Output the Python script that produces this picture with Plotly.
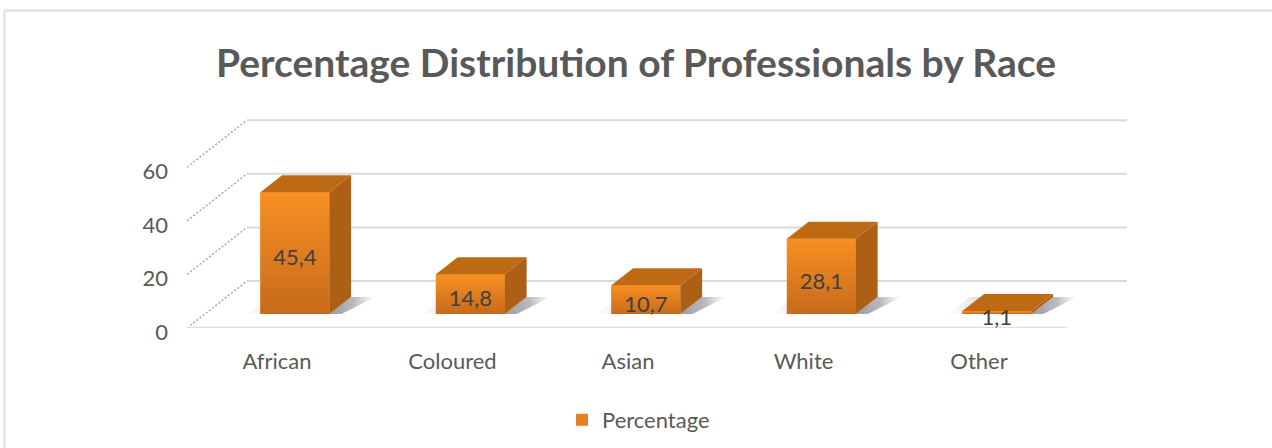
import plotly.graph_objects as go

categories = ["African", "Coloured", "Asian", "White", "Other"]
values = [45.4, 14.8, 10.7, 28.1, 1.1]
value_labels = ["45,4", "14,8", "10,7", "28,1", "1,1"]
y_ticks = [0, 20, 40, 60]
series_name = "Percentage"

# plot-box geometry (pixels of the page)
W, H = 1272, 448
L, R, T, B = 187, 1127, 100, 328
PX_X = 175.5          # pixels per category
PX_Y = 2.68           # pixels per value unit
X_MIN = (L - 277) / PX_X
X_MAX = (R - 277) / PX_X
Y_MAX = (B - T) / PX_Y
DEPTH_X = 60 / PX_X   # shift of the full floor depth, in axis units
DEPTH_Y = 47 / PX_Y
BAR_W = 69 / PX_X
D_FRONT, D_BACK = 0.298, 0.66


def project(i, v, depth):
    return i + depth * DEPTH_X, v + depth * DEPTH_Y


fig = go.Figure()

# wall grid lines and diagonals
for t in y_ticks:
    x0, y0 = project(X_MIN, t, 0)
    x1, y1 = project(X_MIN, t, 1)
    fig.add_trace(go.Scatter(x=[x1, X_MAX], y=[y1, y1], mode="lines", showlegend=False, hoverinfo="skip",
                             cliponaxis=False, line=dict(color="#DADADA", width=2)))
    fig.add_trace(go.Scatter(x=[x0, x1], y=[y0, y1], mode="lines", showlegend=False, hoverinfo="skip",
                             cliponaxis=False, line=dict(color="#A8A8A8", width=1.5, dash="2px,2px")))
# floor front edge
x0, y0 = project(X_MIN, 0, 0)
x1, _ = project(X_MAX - DEPTH_X, 0, 0)
fig.add_trace(go.Scatter(x=[x0, x1], y=[y0, y0], mode="lines", showlegend=False, hoverinfo="skip",
                         cliponaxis=False, line=dict(color="#DDE0E3", width=2.5)))

# soft floor shadows
for i in range(len(values)):
    xa, ya = project(i + BAR_W / 2, 0, D_FRONT)
    xb, yb = project(i + BAR_W / 2, 0, D_BACK)
    sx = 24 / PX_X
    fig.add_trace(go.Scatter(
        x=[xa, xb, xb + sx, xa + sx * 0.5, xa], y=[ya, yb, yb, ya, ya], mode="lines", fill="toself",
        line=dict(width=0), showlegend=False, hoverinfo="skip", cliponaxis=False,
        fillgradient=dict(type="horizontal", colorscale=[[0, "rgba(110,110,120,0.7)"], [0.55, "rgba(130,130,140,0.55)"], [1, "rgba(160,160,170,0)"]])))
    xc, yc = project(i - BAR_W / 2, 0, D_FRONT)
    xd, yd = project(i - BAR_W / 2, 0, D_BACK)
    fig.add_trace(go.Scatter(
        x=[xc - sx * 0.6, xd - sx * 0.6, xd + 0.02, xc + 0.02, xc - sx * 0.6], y=[yc, yd, yd, yc, yc], mode="lines",
        fill="toself", line=dict(width=0), showlegend=False, hoverinfo="skip", cliponaxis=False,
        fillgradient=dict(type="horizontal", colorscale=[[0, "rgba(150,130,140,0)"], [1, "rgba(130,110,120,0.3)"]])))

# front faces: the actual bars
bar_x = [project(i, 0, D_FRONT)[0] for i in range(len(values))]
bar_base = [project(i, 0, D_FRONT)[1] for i in range(len(values))]
fig.add_trace(go.Bar(x=bar_x, y=values, base=bar_base, width=BAR_W, name=series_name, showlegend=True,
                     marker=dict(color="#E5811F", line=dict(width=0)), cliponaxis=False, hoverinfo="skip"))

# top, side and gradient of each bar, all derived from the values
for i, v in enumerate(values):
    lft, rgt = i - BAR_W / 2, i + BAR_W / 2
    fx0, fy0 = project(lft, v, D_FRONT)
    fx1, _ = project(rgt, v, D_FRONT)
    bx0, by0 = project(lft, v, D_BACK)
    bx1, _ = project(rgt, v, D_BACK)
    _, gy0 = project(lft, 0, D_FRONT)
    _, gy1 = project(lft, 0, D_BACK)
    fig.add_trace(go.Scatter(x=[fx0, fx1, fx1, fx0, fx0], y=[gy0, gy0, fy0, fy0, gy0], mode="lines", fill="toself",
                             line=dict(width=0), showlegend=False, hoverinfo="skip", cliponaxis=False,
                             fillgradient=dict(type="vertical", colorscale=[[0, "#C66B1C"], [1, "#F88F22"]])))
    fig.add_trace(go.Scatter(x=[fx0, fx1, bx1, bx0, fx0], y=[fy0, fy0, by0, by0, fy0], mode="lines", fill="toself",
                             fillcolor="#BE6A14", line=dict(width=0), showlegend=False, hoverinfo="skip",
                             cliponaxis=False))
    fig.add_trace(go.Scatter(x=[fx1, bx1, bx1, fx1, fx1], y=[gy0, gy1, by0, fy0, gy0], mode="lines", fill="toself",
                             fillcolor="#AB6016", line=dict(width=0), showlegend=False, hoverinfo="skip",
                             cliponaxis=False))

# data labels
label_x = [project(i, 0, D_FRONT)[0] for i in range(len(values))]
label_y = [project(i, 0, D_FRONT)[1] + v / 2 - 2.5 for i, v in enumerate(values)]
fig.add_trace(go.Scatter(x=label_x, y=label_y, mode="text", text=value_labels, textposition="middle center",
                         textfont=dict(family="Lato", size=22, color="#404040"), showlegend=False,
                         hoverinfo="skip", cliponaxis=False))


def px_x(p):
    return (p - L) / (R - L)


def px_y(p):
    return (B - p) / (B - T)


border = dict(type="line", xref="paper", yref="paper", line=dict(color="#E2E2E2", width=2.5), layer="below")

fig.update_layout(
    width=W, height=H,
    margin=dict(l=L, r=W - R, t=T, b=H - B, autoexpand=False),
    paper_bgcolor="white", plot_bgcolor="white",
    showlegend=True,
    title=dict(text="<b>Percentage Distribution of Professionals by Race</b>", x=0.5, xanchor="center",
               xref="container", y=1 - 63 / H, yanchor="middle", yref="container",
               font=dict(family="Lato", size=39, color="#595959")),
    xaxis=dict(range=[X_MIN, X_MAX], tickmode="array", tickvals=list(range(len(categories))), ticktext=categories,
               showgrid=False, zeroline=False, showline=False, ticks="", ticklabelstandoff=18,
               tickfont=dict(family="Lato", size=22, color="#595959")),
    yaxis=dict(range=[0, Y_MAX], tickmode="array", tickvals=y_ticks, showgrid=False, zeroline=False,
               showline=False, ticks="", ticklabelstandoff=18, ticklabelshift=4,
               tickfont=dict(family="Lato", size=22, color="#595959")),
    legend=dict(orientation="h", x=px_x(562), xanchor="left", y=px_y(399), yanchor="top",
                font=dict(family="Lato", size=22, color="#595959"), bgcolor="rgba(0,0,0,0)"),
    shapes=[
        dict(border, x0=px_x(4.5), x1=px_x(W), y0=px_y(10.5), y1=px_y(10.5)),
        dict(border, x0=px_x(4.5), x1=px_x(4.5), y0=px_y(10.5), y1=px_y(H)),
    ],
)

fig.write_html("out.html", config={"displayModeBar": False},
               post_script="document.body.style.margin='0';document.body.style.overflow='hidden';")
